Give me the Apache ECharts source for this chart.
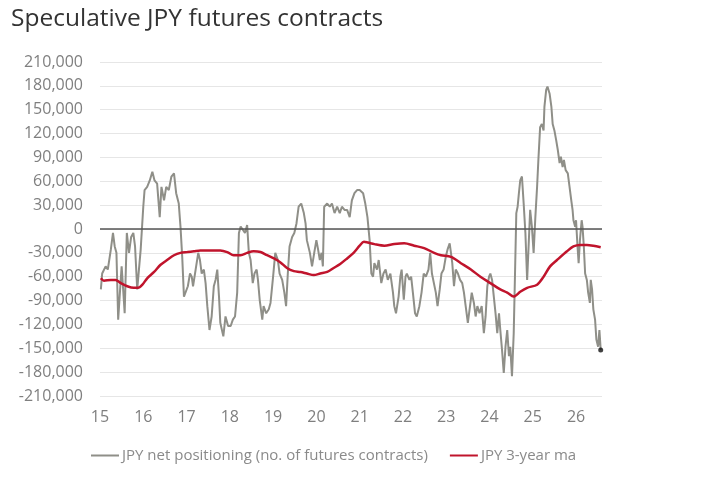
<!DOCTYPE html>
<html>
<head>
<meta charset="utf-8">
<script src="https://cdn.jsdelivr.net/npm/echarts@6/dist/echarts.min.js"></script>
<style>
  html, body { margin: 0; padding: 0; background: #fff; }
  #chart { width: 712px; height: 478px; }
</style>
</head>
<body>
<div id="chart"></div>
<script>
// weekly net positioning (decimal year, 15 = 2015)
var netYears = [
  15.02,15.05,15.13,15.18,15.25,15.30,15.34,15.38,15.42,15.46,15.50,15.54,15.57,15.62,15.67,15.72,15.77,15.81,15.86,15.90,15.94,
  16.00,16.03,16.09,16.15,16.21,16.26,16.32,16.38,16.42,16.48,16.53,16.59,16.65,16.71,16.76,16.82,16.86,16.90,16.94,16.98,
  17.03,17.08,17.12,17.15,17.21,17.27,17.31,17.35,17.40,17.44,17.48,17.53,17.58,17.63,17.67,17.71,17.75,17.78,17.85,17.90,17.96,
  18.02,18.07,18.12,18.17,18.21,18.25,18.30,18.35,18.40,18.44,18.48,18.53,18.57,18.62,18.65,18.69,18.75,18.78,18.84,18.90,18.94,
  19.00,19.05,19.11,19.15,19.21,19.26,19.30,19.34,19.38,19.44,19.49,19.54,19.59,19.65,19.71,19.75,19.78,19.85,19.90,19.95,
  20.00,20.04,20.08,20.12,20.15,20.18,20.25,20.31,20.36,20.42,20.48,20.54,20.59,20.65,20.71,20.77,20.82,20.88,20.94,
  21.00,21.04,21.08,21.13,21.18,21.23,21.27,21.31,21.34,21.40,21.44,21.50,21.55,21.60,21.65,21.71,21.77,21.80,21.84,21.90,21.94,21.97,
  22.02,22.06,22.09,22.15,22.19,22.23,22.28,22.32,22.38,22.43,22.48,22.53,22.59,22.63,22.67,22.71,22.76,22.80,22.85,22.89,22.94,22.99,
  23.03,23.08,23.11,23.14,23.18,23.22,23.27,23.32,23.37,23.41,23.45,23.50,23.55,23.59,23.64,23.68,23.72,23.77,23.82,23.87,23.91,23.95,23.99,
  24.02,24.06,24.10,24.14,24.18,24.22,24.25,24.29,24.33,24.37,24.41,24.45,24.48,24.52,24.56,24.59,24.62,24.65,24.68,24.71,24.75,24.79,24.83,24.87,24.91,24.94,24.98,
  25.02,25.06,25.10,25.13,25.17,25.21,25.25,25.27,25.31,25.34,25.39,25.43,25.46,25.50,25.54,25.58,25.62,25.65,25.69,25.72,25.76,25.81,25.85,25.89,25.92,25.94,25.98,
  26.00,26.03,26.06,26.09,26.13,26.15,26.18,26.21,26.25,26.28,26.32,26.34,26.37,26.40,26.44,26.47,26.51,26.54,26.55,26.57
];
var netValues = [
  -76000,-56000,-47000,-51000,-26000,-5000,-22000,-30000,-114000,-80000,-47000,-80000,-106000,-5000,-30000,-10000,-5000,-22000,-76000,-76000,-26000,
  28000,49000,53000,61000,72000,61000,57000,15000,53000,36000,53000,49000,66000,70000,45000,32000,3000,-35000,-85000,-87000,
  -72000,-56000,-60000,-72000,-51000,-30000,-39000,-56000,-51000,-68000,-97000,-127000,-110000,-72000,-64000,-51000,-85000,-118000,-135000,-110000,-122000,
  -122000,-114000,-110000,-80000,-5000,3000,-1000,-5000,5000,-30000,-39000,-68000,-56000,-51000,-64000,-89000,-114000,-97000,-106000,-101000,-93000,
  -60000,-30000,-39000,-56000,-64000,-80000,-97000,-56000,-22000,-10000,-5000,7000,28000,32000,20000,7000,-14000,-30000,-47000,-30000,
  -14000,-26000,-39000,-30000,-47000,28000,32000,28000,32000,20000,28000,20000,28000,24000,24000,15000,36000,45000,49000,
  49000,50000,45000,32000,15000,-14000,-56000,-60000,-43000,-51000,-39000,-68000,-56000,-51000,-64000,-56000,-80000,-97000,-106000,-85000,-60000,-51000,
  -89000,-60000,-56000,-64000,-60000,-80000,-106000,-110000,-97000,-80000,-56000,-60000,-51000,-30000,-56000,-56000,-80000,-97000,-76000,-56000,-51000,-35000,
  -26000,-18000,-30000,-43000,-72000,-51000,-56000,-64000,-68000,-80000,-97000,-118000,-97000,-80000,-93000,-110000,-97000,-106000,-97000,-131000,-110000,-72000,-60000,
  -56000,-64000,-85000,-106000,-131000,-106000,-127000,-152000,-181000,-148000,-127000,-160000,-148000,-185000,-131000,-56000,20000,28000,45000,61000,66000,32000,-5000,-64000,-14000,24000,3000,
  -30000,15000,53000,87000,128000,132000,124000,154000,175000,179000,170000,154000,132000,124000,112000,99000,83000,91000,78000,87000,74000,70000,53000,36000,24000,11000,3000,
  11000,-18000,-43000,-14000,11000,3000,-22000,-56000,-64000,-80000,-93000,-64000,-76000,-101000,-114000,-139000,-148000,-127000,-135000,-152000
];

// 3-year moving average
var maYears = [
  15.02,15.09,15.25,15.36,15.48,15.63,15.78,15.88,15.98,16.09,16.25,16.40,16.55,16.71,16.86,17.02,17.17,17.32,17.48,17.63,17.78,17.94,
  18.09,18.25,18.40,18.55,18.71,18.86,19.02,19.17,19.32,19.48,19.63,19.78,19.94,20.09,20.25,20.40,20.55,20.71,20.86,21.00,21.10,21.19,
  21.34,21.57,21.80,22.03,22.26,22.49,22.72,22.88,23.11,23.34,23.57,23.79,24.02,24.25,24.41,24.56,24.71,24.87,25.10,25.25,25.40,25.56,
  25.79,25.94,26.09,26.25,26.40,26.57
];
var maValues = [
  -62000,-65000,-64000,-64000,-68000,-72000,-74000,-74000,-70000,-62000,-54000,-45000,-39000,-33000,-30000,-29000,-28000,-27000,-27000,-27000,-27000,-29000,
  -33000,-33000,-30000,-28000,-29000,-33000,-37000,-42000,-49000,-53000,-54000,-56000,-58000,-56000,-54000,-49000,-44000,-37000,-30000,-21000,-16000,-17000,
  -19000,-21000,-19000,-18000,-21000,-24000,-30000,-33000,-35000,-43000,-51000,-60000,-68000,-76000,-80000,-85000,-79000,-74000,-70000,-60000,-47000,-39000,
  -28000,-22000,-20000,-20000,-21000,-23000
];

var netName = 'JPY net positioning (no. of futures contracts)';
var maName = 'JPY 3-year ma';

var netData = netYears.map(function (y, i) { return [y, netValues[i]]; });
var maData = maYears.map(function (y, i) { return [y, maValues[i]]; });
var lastPoint = netData[netData.length - 1];

var font = '"Open Sans", "Noto Sans", sans-serif';
var myChart = echarts.init(document.getElementById('chart'));

option = {
    backgroundColor: '#fff',
    animation: false,
    title: {
        text: 'Speculative JPY futures contracts',
        left: 6,
        top: 2,
        textStyle: { fontFamily: font, fontSize: 24.5, fontWeight: 'normal', color: '#333' }
    },
    legend: {
        left: 86,
        top: 443,
        icon: 'rect',
        itemWidth: 28,
        itemHeight: 2,
        itemGap: 22,
        data: [
            { name: netName, itemStyle: { color: '#8f8f88' } },
            { name: maName, itemStyle: { color: '#c0142c' } }
        ],
        textStyle: { fontFamily: font, fontSize: 15, color: '#8a8a8a', padding: [0, 0, 0, -2] }
    },
    grid: { left: 100, right: 110, top: 62, bottom: 82 },
    xAxis: {
        type: 'value',
        min: 15,
        max: 26.6,
        interval: 1,
        axisLine: { show: false },
        axisTick: { show: false },
        splitLine: { show: false },
        axisLabel: {
            showMaxLabel: false,
            margin: 13,
            fontFamily: font,
            fontSize: 16,
            color: '#7f7f7f',
            formatter: function (v) { return Math.round(v); }
        }
    },
    yAxis: {
        type: 'value',
        min: -210000,
        max: 210000,
        interval: 30000,
        axisLine: { show: false },
        axisTick: { show: false },
        splitLine: { lineStyle: { color: '#e6e6e6', width: 1 } },
        axisLabel: {
            margin: 17,
            fontFamily: font,
            fontSize: 16,
            color: '#7f7f7f',
            formatter: function (v) { return v.toLocaleString('en-US'); }
        }
    },
    series: [
        {
            name: netName,
            type: 'line',
            data: netData,
            showSymbol: false,
            lineStyle: { color: '#8f8f88', width: 2 },
            itemStyle: { color: '#8f8f88' },
            z: 2,
            markLine: {
                silent: true,
                symbol: 'none',
                label: { show: false },
                lineStyle: { color: '#555', type: 'solid', width: 1.5 },
                data: [{ yAxis: 0 }]
            }
        },
        {
            name: maName,
            type: 'line',
            data: maData,
            smooth: 0.3,
            showSymbol: false,
            lineStyle: { color: '#c0142c', width: 2.5 },
            itemStyle: { color: '#c0142c' },
            z: 3
        },
        {
            name: 'last',
            type: 'scatter',
            data: [lastPoint],
            symbolSize: 5,
            itemStyle: { color: '#111' },
            z: 4
        }
    ]
};

myChart.setOption(option);
</script>
</body>
</html>
